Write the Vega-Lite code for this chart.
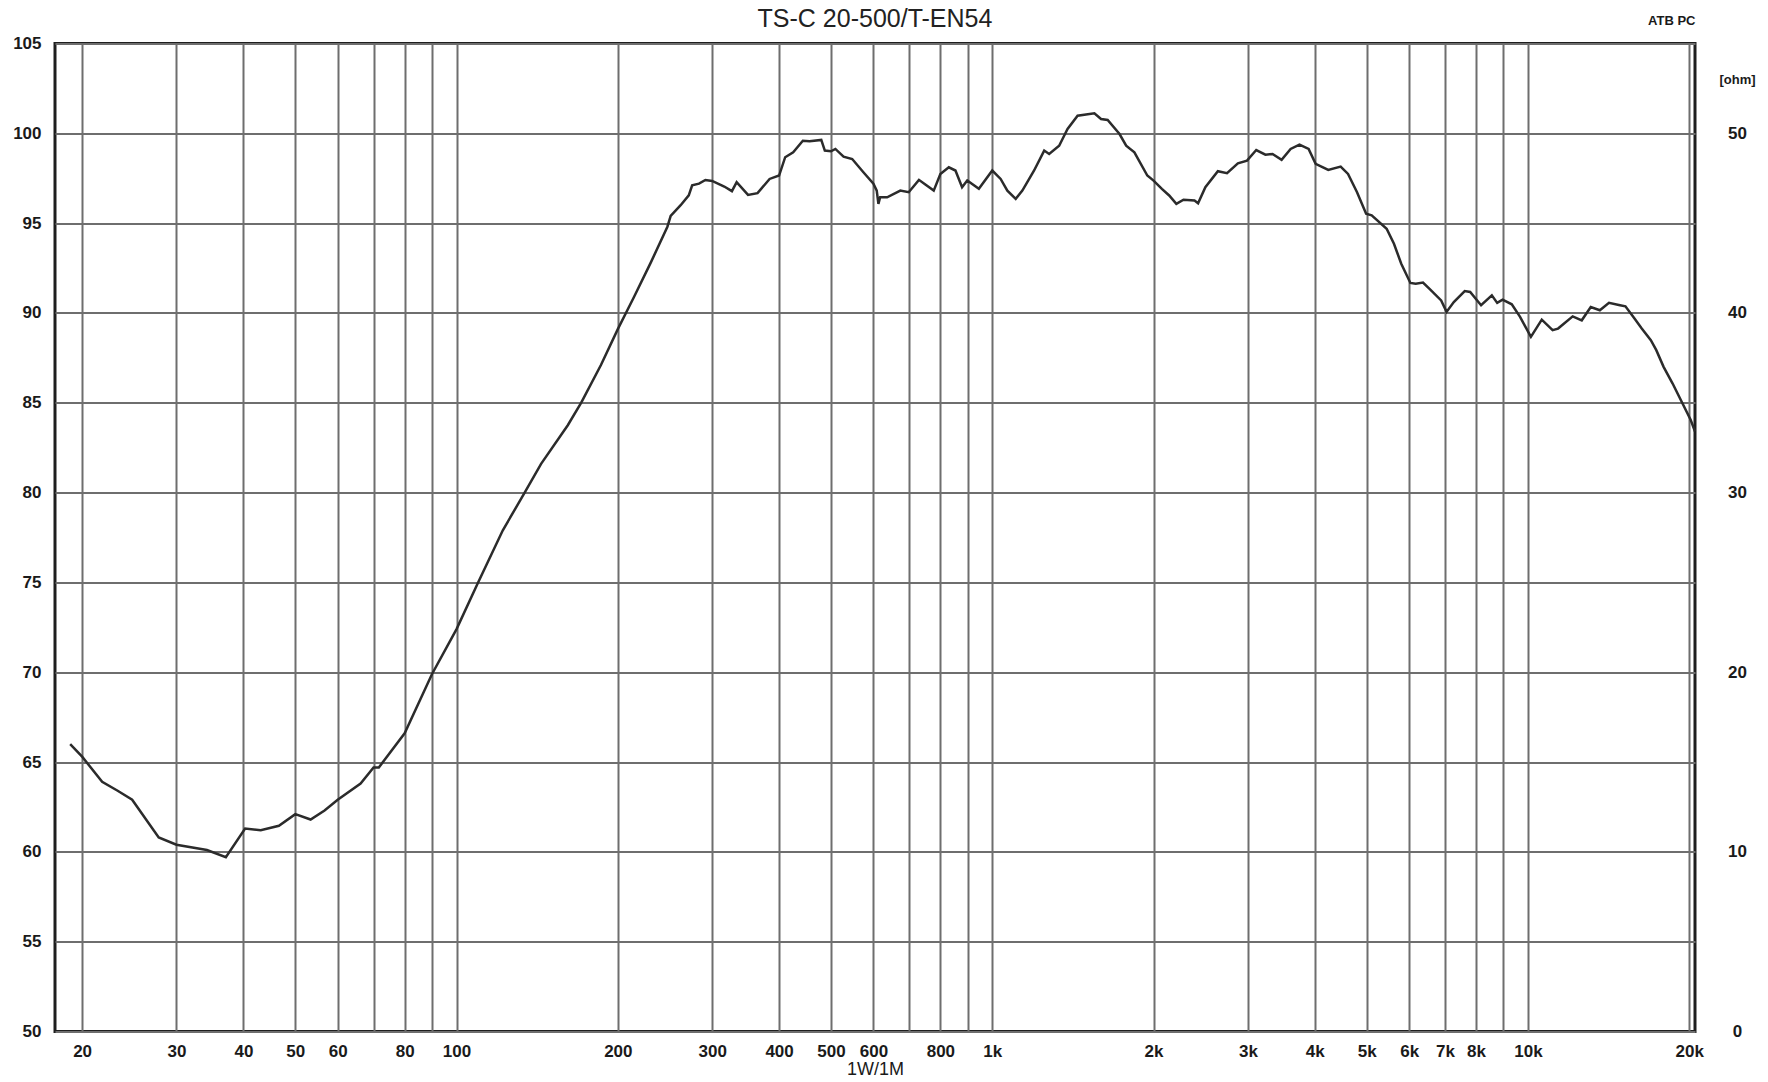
{
  "$schema": "https://vega.github.io/schema/vega-lite/v6.json",
  "width": 1640,
  "height": 988,
  "autosize": {"type": "none"},
  "padding": {"left": 55, "top": 43.5, "right": 73, "bottom": 50.5},
  "background": "white",
  "config": {
    "font": "Liberation Sans",
    "view": {"stroke": "#1e1e1e", "strokeWidth": 3},
    "axis": {
      "labelFont": "Liberation Sans",
      "labelFontSize": 17,
      "labelFontWeight": "bold",
      "labelColor": "#1a1a1a",
      "gridColor": "#6e6e6e",
      "gridWidth": 2,
      "gridOpacity": 1,
      "ticks": false,
      "domain": false
    }
  },
  "title": {
    "text": "TS-C 20-500/T-EN54",
    "anchor": "middle",
    "font": "Liberation Sans",
    "fontSize": 25,
    "fontWeight": "normal",
    "color": "#222",
    "offset": -17
  },
  "data": {
    "values": [
      {"freq": 19.0, "spl": 66.0}, {"freq": 20, "spl": 65.3}, {"freq": 21.8, "spl": 63.9},
      {"freq": 23.3, "spl": 63.4}, {"freq": 24.8, "spl": 62.9}, {"freq": 27.8, "spl": 60.8},
      {"freq": 30, "spl": 60.4}, {"freq": 34.2, "spl": 60.1}, {"freq": 37.1, "spl": 59.7},
      {"freq": 40.3, "spl": 61.3}, {"freq": 43.1, "spl": 61.2}, {"freq": 46.6, "spl": 61.45},
      {"freq": 50, "spl": 62.1}, {"freq": 53.4, "spl": 61.8}, {"freq": 56.7, "spl": 62.3},
      {"freq": 60, "spl": 62.9}, {"freq": 66.2, "spl": 63.8}, {"freq": 70, "spl": 64.7},
      {"freq": 71.6, "spl": 64.7}, {"freq": 80, "spl": 66.6}, {"freq": 90, "spl": 69.9},
      {"freq": 100, "spl": 72.4}, {"freq": 109.7, "spl": 75.0}, {"freq": 122, "spl": 77.9},
      {"freq": 134, "spl": 80.0}, {"freq": 143.8, "spl": 81.6}, {"freq": 161.3, "spl": 83.75},
      {"freq": 170.8, "spl": 85.0}, {"freq": 186, "spl": 87.1}, {"freq": 200, "spl": 89.1},
      {"freq": 214.5, "spl": 90.9}, {"freq": 230.4, "spl": 92.8}, {"freq": 247.5, "spl": 94.8},
      {"freq": 251, "spl": 95.4}, {"freq": 262, "spl": 96.0}, {"freq": 271.3, "spl": 96.55},
      {"freq": 275.3, "spl": 97.1}, {"freq": 283.5, "spl": 97.2}, {"freq": 291.4, "spl": 97.4},
      {"freq": 300, "spl": 97.35}, {"freq": 316, "spl": 97.04}, {"freq": 326.6, "spl": 96.78},
      {"freq": 333.3, "spl": 97.28}, {"freq": 350, "spl": 96.57}, {"freq": 364.6, "spl": 96.67},
      {"freq": 384, "spl": 97.46}, {"freq": 400, "spl": 97.65}, {"freq": 410.6, "spl": 98.67},
      {"freq": 425, "spl": 98.94}, {"freq": 443, "spl": 99.59}, {"freq": 456, "spl": 99.56},
      {"freq": 479.5, "spl": 99.63}, {"freq": 486.9, "spl": 99.04}, {"freq": 500, "spl": 99.0},
      {"freq": 509.5, "spl": 99.13}, {"freq": 527.7, "spl": 98.7}, {"freq": 547.7, "spl": 98.57},
      {"freq": 574.7, "spl": 97.83}, {"freq": 600, "spl": 97.19}, {"freq": 608.6, "spl": 96.81},
      {"freq": 613, "spl": 96.07}, {"freq": 617.6, "spl": 96.44}, {"freq": 636.4, "spl": 96.44},
      {"freq": 673.5, "spl": 96.81}, {"freq": 698.3, "spl": 96.72}, {"freq": 729.6, "spl": 97.41},
      {"freq": 750, "spl": 97.15}, {"freq": 777.5, "spl": 96.81}, {"freq": 800, "spl": 97.74},
      {"freq": 829.6, "spl": 98.11}, {"freq": 853.6, "spl": 97.93}, {"freq": 878.3, "spl": 97.0},
      {"freq": 898, "spl": 97.37}, {"freq": 944, "spl": 96.91}, {"freq": 1000, "spl": 97.93},
      {"freq": 1036.6, "spl": 97.46}, {"freq": 1067, "spl": 96.81}, {"freq": 1106, "spl": 96.35},
      {"freq": 1138, "spl": 96.81}, {"freq": 1197, "spl": 97.93}, {"freq": 1250, "spl": 99.04},
      {"freq": 1277, "spl": 98.85}, {"freq": 1333, "spl": 99.31}, {"freq": 1382, "spl": 100.24},
      {"freq": 1443, "spl": 100.98}, {"freq": 1551, "spl": 101.11}, {"freq": 1596, "spl": 100.8},
      {"freq": 1642, "spl": 100.74}, {"freq": 1728, "spl": 99.96}, {"freq": 1778, "spl": 99.31},
      {"freq": 1842, "spl": 98.94}, {"freq": 1947, "spl": 97.65}, {"freq": 2000, "spl": 97.37},
      {"freq": 2073, "spl": 96.91}, {"freq": 2139, "spl": 96.54}, {"freq": 2206, "spl": 96.07},
      {"freq": 2275, "spl": 96.3}, {"freq": 2385, "spl": 96.26}, {"freq": 2422, "spl": 96.11},
      {"freq": 2499, "spl": 97.0}, {"freq": 2637, "spl": 97.89}, {"freq": 2743, "spl": 97.78},
      {"freq": 2874, "spl": 98.33}, {"freq": 2989, "spl": 98.48}, {"freq": 3110, "spl": 99.07},
      {"freq": 3235, "spl": 98.81}, {"freq": 3336, "spl": 98.85}, {"freq": 3468, "spl": 98.52},
      {"freq": 3605, "spl": 99.13}, {"freq": 3745, "spl": 99.37}, {"freq": 3895, "spl": 99.13},
      {"freq": 4014, "spl": 98.3}, {"freq": 4238, "spl": 97.96}, {"freq": 4470, "spl": 98.15},
      {"freq": 4614, "spl": 97.74}, {"freq": 4796, "spl": 96.72}, {"freq": 4987, "spl": 95.52},
      {"freq": 5108, "spl": 95.43}, {"freq": 5447, "spl": 94.69}, {"freq": 5621, "spl": 93.85},
      {"freq": 5800, "spl": 92.74}, {"freq": 6032, "spl": 91.67}, {"freq": 6172, "spl": 91.63},
      {"freq": 6369, "spl": 91.69}, {"freq": 6571, "spl": 91.3}, {"freq": 6885, "spl": 90.7},
      {"freq": 7047, "spl": 90.06}, {"freq": 7270, "spl": 90.61}, {"freq": 7619, "spl": 91.22},
      {"freq": 7800, "spl": 91.17}, {"freq": 8174, "spl": 90.43}, {"freq": 8561, "spl": 90.98},
      {"freq": 8760, "spl": 90.56}, {"freq": 8965, "spl": 90.74}, {"freq": 9327, "spl": 90.48},
      {"freq": 9665, "spl": 89.78}, {"freq": 10126, "spl": 88.67}, {"freq": 10610, "spl": 89.63},
      {"freq": 11116, "spl": 89.04}, {"freq": 11379, "spl": 89.13}, {"freq": 12119, "spl": 89.81},
      {"freq": 12600, "spl": 89.59}, {"freq": 13097, "spl": 90.33}, {"freq": 13619, "spl": 90.15},
      {"freq": 14164, "spl": 90.56}, {"freq": 14851, "spl": 90.43}, {"freq": 15202, "spl": 90.37},
      {"freq": 15806, "spl": 89.69}, {"freq": 16306, "spl": 89.13}, {"freq": 16956, "spl": 88.48},
      {"freq": 17358, "spl": 87.93}, {"freq": 17911, "spl": 87.0}, {"freq": 18621, "spl": 86.07},
      {"freq": 19359, "spl": 85.06}, {"freq": 20127, "spl": 84.04}, {"freq": 20500, "spl": 83.4}
    ]
  },
  "layer": [
    {
      "mark": {"type": "line", "color": "#2b2b2b", "strokeWidth": 2.5},
      "encoding": {
        "x": {
          "field": "freq",
          "type": "quantitative",
          "scale": {"type": "log", "domain": [17.8, 20500], "nice": false},
          "axis": {
            "orient": "bottom",
            "values": [20, 30, 40, 50, 60, 70, 80, 90, 100, 200, 300, 400, 500, 600, 700, 800, 900, 1000, 2000, 3000, 4000, 5000, 6000, 7000, 8000, 9000, 10000, 20000],
            "labelExpr": "indexof([70, 90, 700, 900, 9000], datum.value) >= 0 ? '' : (datum.value >= 1000 ? (datum.value / 1000) + 'k' : '' + datum.value)",
            "labelOverlap": false,
            "labelFlush": false,
            "labelPadding": 12,
            "title": "1W/1M",
            "titleFont": "Liberation Sans",
            "titleFontSize": 18,
            "titleFontWeight": "normal",
            "titleColor": "#1a1a1a",
            "titlePadding": 1
          }
        },
        "y": {
          "field": "spl",
          "type": "quantitative",
          "scale": {"domain": [50, 105], "nice": false, "zero": false},
          "axis": {
            "orient": "left",
            "values": [50, 55, 60, 65, 70, 75, 80, 85, 90, 95, 100, 105],
            "labelPadding": 14,
            "title": null
          }
        }
      }
    },
    {
      "mark": {"type": "line", "opacity": 0},
      "encoding": {
        "x": {
          "field": "freq",
          "type": "quantitative",
          "axis": {
            "orient": "top",
            "labels": false,
            "grid": false,
            "title": "ATB PC",
            "titleAnchor": "end",
            "titleFont": "Liberation Sans",
            "titleFontSize": 13,
            "titleFontWeight": "bold",
            "titleColor": "#1a1a1a",
            "titlePadding": 16
          }
        },
        "y": {
          "field": "spl",
          "type": "quantitative",
          "axis": {
            "orient": "right",
            "values": [50, 60, 70, 80, 90, 100, 103],
            "labelExpr": "datum.value > 100 ? '[ohm]' : '' + (datum.value - 50)",
            "labelAlign": "center",
            "labelPadding": 42,
            "labelFontSize": {"condition": {"test": "datum.value > 100", "value": 13}, "value": 17},
            "grid": false,
            "title": null
          }
        }
      }
    }
  ],
  "resolve": {"axis": {"x": "independent", "y": "independent"}}
}
